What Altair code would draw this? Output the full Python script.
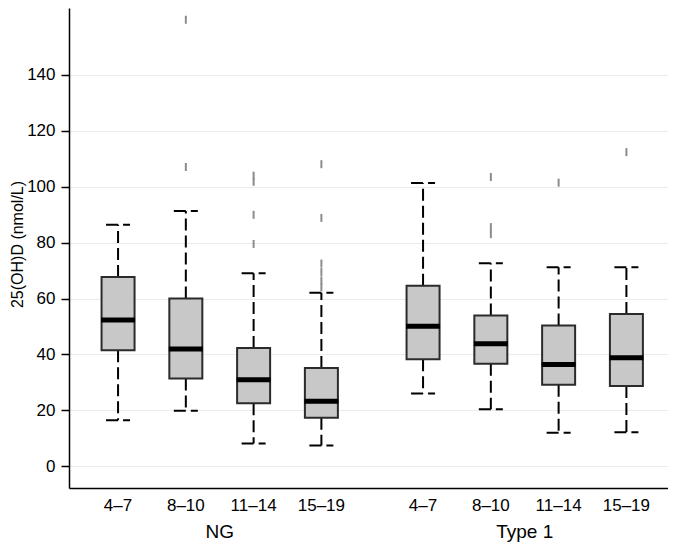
import altair as alt
import pandas as pd

groups = ["NG", "Type 1"]
ages = ["4–7", "8–10", "11–14", "15–19"]

# box statistics, NG first then Type 1 (same age order)
lower = [16.5, 19.9, 8.2, 7.5, 26.1, 20.4, 12.0, 12.2]
q1 = [41.5, 31.4, 22.6, 17.4, 38.3, 36.7, 29.2, 28.7]
median = [52.3, 42.0, 31.0, 23.3, 50.1, 43.8, 36.4, 38.8]
q3 = [67.7, 60.0, 42.3, 35.2, 64.6, 53.9, 50.4, 54.5]
upper = [86.4, 91.3, 69.0, 62.1, 101.3, 72.6, 71.2, 71.2]

# outliers
out_group = ["NG", "NG", "NG", "NG", "NG", "NG", "NG", "NG", "NG", "NG", "NG", "NG",
             "Type 1", "Type 1", "Type 1", "Type 1", "Type 1"]
out_age = ["8–10", "8–10", "11–14", "11–14", "11–14", "11–14",
           "15–19", "15–19", "15–19", "15–19", "15–19", "15–19",
           "8–10", "8–10", "8–10", "11–14", "15–19"]
out_value = [159.6, 107.0, 103.9, 101.7, 89.9, 79.5,
             108.0, 88.8, 72.5, 69.5, 66.5, 64.0,
             103.4, 85.5, 83.0, 101.4, 112.3]

GROUP_GAP = 4.5
rows = []
k = 0
for gi, g in enumerate(groups):
    for ai, a in enumerate(ages):
        rows.append(dict(group=g, age=a, pos=ai + gi * GROUP_GAP,
                         lower=lower[k], q1=q1[k], median=median[k],
                         q3=q3[k], upper=upper[k]))
        k += 1
box = pd.DataFrame(rows)
posmap = {(r["group"], r["age"]): r["pos"] for r in rows}
outl = pd.DataFrame({"group": out_group, "age": out_age, "value": out_value})
outl["pos"] = [posmap[(g, a)] for g, a in zip(out_group, out_age)]

FONT = "Liberation Sans"
TITLE = "25(OH)D (nmol/L)"
xscale = alt.Scale(domain=[-0.65, 8.04], nice=False, zero=False)
yscale = alt.Scale(domain=[-7.7, 163.8], nice=False, zero=False)
xaxis = alt.Axis(labels=False, ticks=False, grid=False, title=None,
                 domainColor="black", domainWidth=1.5)
yaxis = alt.Axis(values=[0, 20, 40, 60, 80, 100, 120, 140],
                 title=TITLE, titleFont=FONT, titleFontSize=16,
                 titleFontWeight="normal", titleColor="black",
                 titleX=-52, titleY=236, titleBaseline="middle",
                 labelFont=FONT, labelFontSize=17, labelColor="black",
                 labelPadding=6, tickSize=8, tickWidth=1.5, tickColor="black",
                 domainColor="black", domainWidth=1.5,
                 grid=True, gridColor="#ebebeb", gridWidth=1)


def X(field="pos"):
    return alt.X(f"{field}:Q", scale=xscale, axis=xaxis)


def Y(field):
    return alt.Y(f"{field}:Q", scale=yscale, axis=yaxis, title=TITLE)


base = alt.Chart(box)
dash = [12, 5]

whisk_up = base.mark_rule(strokeDash=dash, strokeWidth=2, color="black").encode(
    x=X(), y=Y("q3"), y2="upper:Q")
whisk_lo = base.mark_rule(strokeDash=dash, strokeWidth=2, color="black").encode(
    x=X(), y=Y("q1"), y2="lower:Q")
caps = base.transform_fold(["lower", "upper"], as_=["kind", "cap"]).mark_rule(
    strokeDash=dash, strokeWidth=2, color="black", xOffset=-12, x2Offset=12
).encode(x=X(), x2="pos:Q", y=Y("cap"))
boxes = base.mark_bar(size=33, color="#c8c8c8", stroke="#2b2b2b", strokeWidth=2).encode(
    x=X(), y=Y("q1"), y2="q3:Q")
meds = base.mark_tick(orient="horizontal", size=34, thickness=5, color="black",
                      opacity=1).encode(x=X(), y=Y("median"))
outs = alt.Chart(outl).mark_point(shape="M0,-1L0,1", size=64, filled=False,
                                  stroke="#8c8c8c", strokeWidth=2, opacity=1).encode(
    x=X(), y=Y("value"))
age_labels = base.mark_text(font=FONT, fontSize=17, baseline="alphabetic",
                            color="black").encode(
    x=X(), y=alt.value(503), text="age:N")
group_labels = base.transform_aggregate(gpos="mean(pos)", groupby=["group"]).mark_text(
    font=FONT, fontSize=19, baseline="alphabetic", color="black").encode(
    x=X("gpos"), y=alt.value(530), text="group:N")

chart = alt.layer(whisk_up, whisk_lo, caps, boxes, meds, outs, age_labels, group_labels).properties(
    width=599, height=480,
    autosize=alt.AutoSizeParams(type="none"),
    padding={"left": 61, "top": 0, "right": 0, "bottom": 56},
).configure_view(stroke=None)

chart.save("out.html", embed_options={"renderer": "svg", "actions": False})
